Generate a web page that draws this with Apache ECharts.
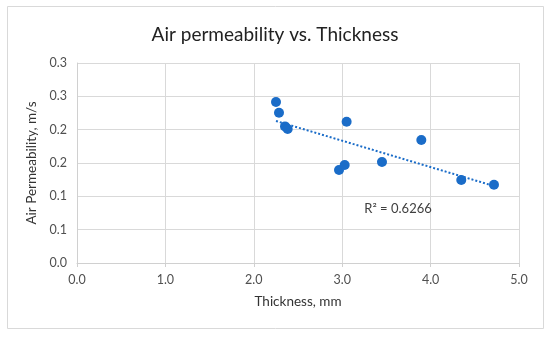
<!DOCTYPE html>
<html><head><meta charset="utf-8">
<script src="https://cdn.jsdelivr.net/npm/echarts@6/dist/echarts.min.js"></script>
<style>html,body{margin:0;padding:0;background:#fff}#c{width:550px;height:337px}</style>
</head><body><div id="c"></div>
<script>
var thickness = [2.251, 2.285, 2.353, 2.383, 3.050, 2.964, 3.028, 3.450, 3.895, 4.347, 4.717];
var permeability = [0.2415, 0.2255, 0.2049, 0.2010, 0.2120, 0.1395, 0.1470, 0.1515, 0.1845, 0.1245, 0.1175];
var xTickLabels = ['0.0', '1.0', '2.0', '3.0', '4.0', '5.0'];
var yTickLabels = ['0.0', '0.1', '0.1', '0.2', '0.2', '0.3', '0.3'];
var r2Text = 'R² = 0.6266';
var r2Pos = [3.25, 0.081];

// linear least-squares trendline from the data
var n = thickness.length, mx = 0, my = 0;
for (var i = 0; i < n; i++) { mx += thickness[i]; my += permeability[i]; }
mx /= n; my /= n;
var sxy = 0, sxx = 0;
for (var i = 0; i < n; i++) { sxy += (thickness[i]-mx)*(permeability[i]-my); sxx += (thickness[i]-mx)*(thickness[i]-mx); }
var slope = sxy / sxx, icpt = my - slope*mx;
var xmin = Math.min.apply(null, thickness), xmax = Math.max.apply(null, thickness);
var trend = [[xmin, icpt + slope*xmin], [xmax, icpt + slope*xmax]];

var pts = thickness.map(function(x, i){ return [x, permeability[i]]; });
var blue = '#1a6cc8';
var font = 'Lato';
var chart = echarts.init(document.getElementById('c'), null, {renderer: 'canvas'});
chart.setOption({
  animation: false,
  backgroundColor: '#fff',
  title: {
    text: 'Air permeability vs. Thickness', left: 'center', top: 20,
    textStyle: {fontFamily: font, fontSize: 19, fontWeight: 'normal', color: '#222'}
  },
  graphic: [{type: 'rect', shape: {x: 7.5, y: 6.5, width: 536, height: 322}, style: {fill: 'none', stroke: '#d9d9d9', lineWidth: 1}, silent: true}],
  grid: {left: 77, right: 31, top: 63, bottom: 74},
  xAxis: {
    type: 'value', min: 0, max: 5, interval: 1,
    name: 'Thickness, mm', nameLocation: 'middle', nameGap: 32,
    nameTextStyle: {fontFamily: font, fontSize: 13.5, color: '#333'},
    axisLine: {show: true, lineStyle: {color: '#d0d0d0'}},
    axisTick: {show: true, length: 4, inside: false, lineStyle: {color: '#d0d0d0'}},
    axisLabel: {fontFamily: font, fontSize: 12.5, color: '#505050', margin: 10,
      formatter: function(v){ return xTickLabels[Math.round(v)]; }},
    splitLine: {show: true, lineStyle: {color: '#d9d9d9'}}
  },
  yAxis: {
    type: 'value', min: 0, max: 0.3, interval: 0.05,
    name: 'Air Permeability, m/s', nameLocation: 'middle', nameGap: 36,
    nameTextStyle: {fontFamily: font, fontSize: 13.5, color: '#333'},
    axisLine: {show: true, lineStyle: {color: '#d0d0d0'}},
    axisTick: {show: false},
    axisLabel: {fontFamily: font, fontSize: 12.5, color: '#505050', margin: 10,
      formatter: function(v){ return yTickLabels[Math.round(v/0.05)]; }},
    splitLine: {show: true, lineStyle: {color: '#d9d9d9'}}
  },
  series: [
    {type: 'line', data: trend, symbol: 'none', z: 2,
      lineStyle: {color: blue, width: 2, type: [2, 2]},
      markPoint: {symbol: 'circle', symbolSize: 0, data: [{coord: r2Pos}],
        label: {show: true, position: 'right', distance: 0, formatter: r2Text,
          fontFamily: font, fontSize: 13, color: '#404040'}}},
    {type: 'scatter', data: pts, symbol: 'circle', symbolSize: 10, z: 3,
      itemStyle: {color: blue, opacity: 1}}
  ]
});
</script></body></html>
